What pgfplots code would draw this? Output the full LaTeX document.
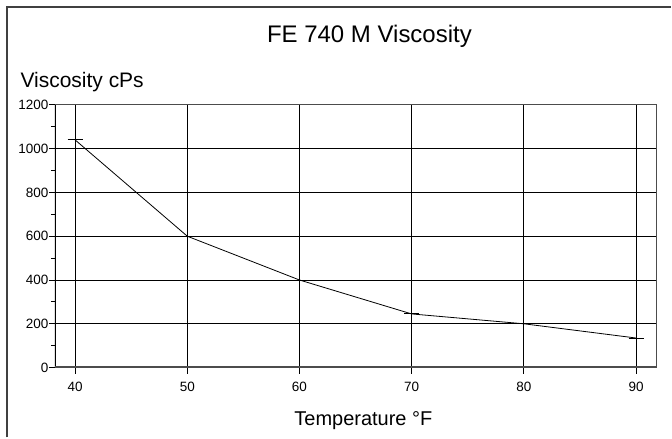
\documentclass[border=0pt]{standalone}
\usepackage{fontspec}
\setmainfont{Liberation Sans}
\usepackage{pgfplots}
\pgfplotsset{compat=1.18}

\begin{document}
\begin{tikzpicture}[x=1pt,y=1pt]
% page size and the outer frame
\path (0,0) rectangle (672,-438);
\draw[line width=1.6pt, black!75] (7,-438) -- (7,-7) -- (672,-7);

\begin{axis}[
    at={(55pt,-368pt)}, anchor=south west,
    scale only axis, width=602pt, height=263pt,
    xmin=38.2, xmax=91.8, ymin=0, ymax=1200,
    xtick={40,50,...,90},
    ytick={0,200,...,1200},
    minor ytick={100,300,...,1100},
    xtick pos=left, ytick pos=left,
    tick align=outside,
    major tick length=6pt, minor tick length=4pt,
    tick style={black, line width=0.8pt},
    grid=major,
    major grid style={black, line width=0.8pt},
    axis line style={black!70, line width=0.8pt},
    /pgf/number format/assume math mode=true,
    /pgf/number format/set thousands separator={},
    xticklabel={\fontsize{13.5}{14}\selectfont\pgfmathprintnumber{\tick}},
    yticklabel={\fontsize{13.5}{14}\selectfont\pgfmathprintnumber{\tick}},
    xticklabel style={yshift=-5pt},
    yticklabel style={xshift=3pt},
    title={FE 740 M Viscosity},
    title style={at={(axis description cs:0.523,1.215)}, anchor=base,
        yshift=0pt, font=\fontsize{24}{26}\selectfont},
    ylabel={Viscosity cPs},
    ylabel style={at={(axis description cs:-0.063,1.068)}, anchor=base west,
        rotate=-90, font=\fontsize{21}{23}\selectfont},
    xlabel={Temperature °F},
    xlabel style={at={(axis description cs:0.513,-0.222)}, anchor=base,
        font=\fontsize{20}{22}\selectfont},
]
\addplot[black, line width=0.8pt, mark=+, mark size=7.5pt,
    mark options={line width=1pt}] coordinates {
    (40,1040) (50,600) (60,400) (70,245) (80,200) (90,135)
};
% heavy left and bottom axis lines
\draw[black, line width=2pt] (rel axis cs:0,0) -- (rel axis cs:0,1);
\draw[black!70, line width=3pt] (rel axis cs:0,0) -- (rel axis cs:1,0);
\end{axis}
\end{tikzpicture}
\end{document}
